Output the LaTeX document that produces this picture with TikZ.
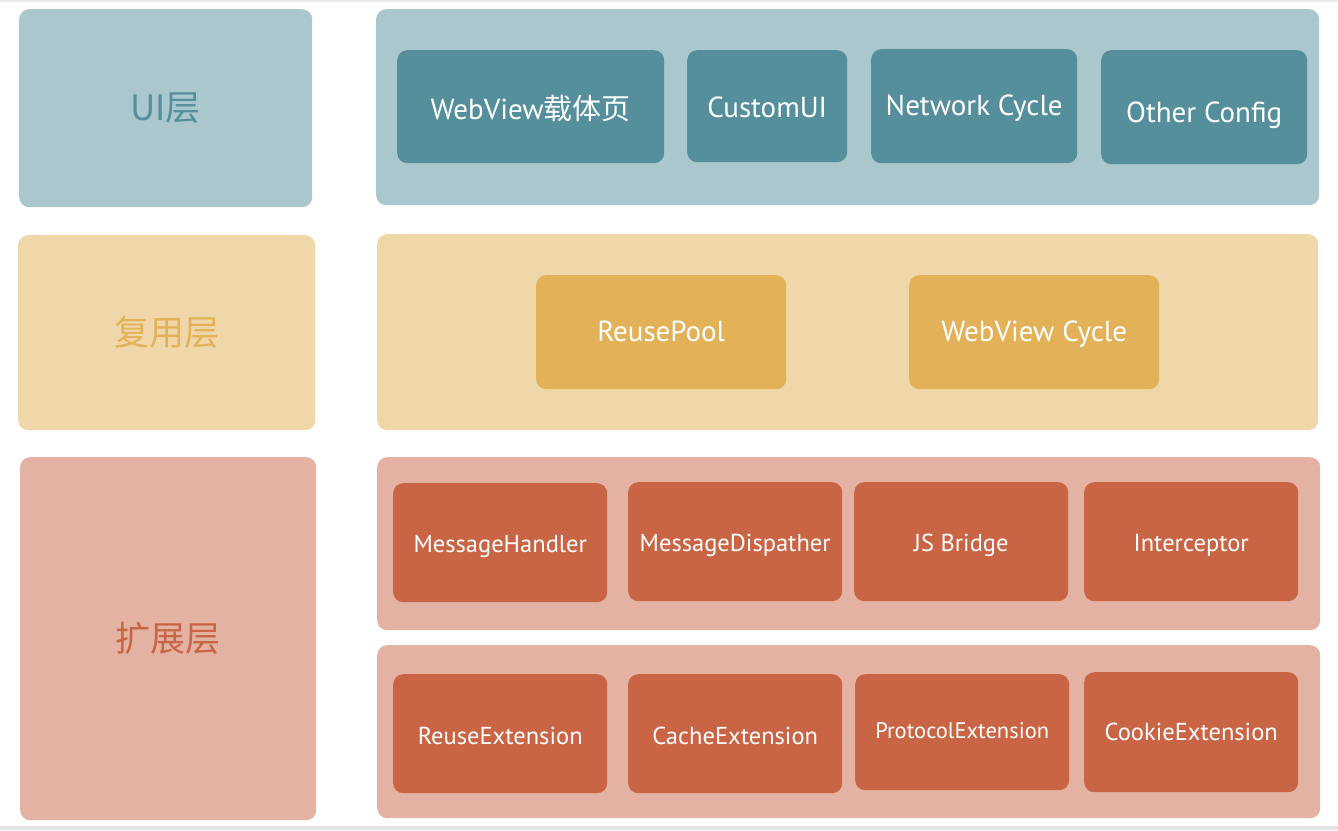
\documentclass[tikz,border=0pt]{standalone}
\usepackage{fontspec}
\setmainfont{PT Sans}
\newfontfamily\cjk{Noto Sans CJK SC}
\usetikzlibrary{positioning}

\definecolor{uibg}{HTML}{AAC7CD}
\definecolor{uifg}{HTML}{548F9B}
\definecolor{reusebg}{HTML}{F0D7A9}
\definecolor{reusefg}{HTML}{E3B158}
\definecolor{extbg}{HTML}{E4B2A2}
\definecolor{extfg}{HTML}{C96544}

\tikzset{
  panel/.style={rounded corners=10pt, inner sep=0pt, anchor=north west},
  layer/.style={panel, font=\cjk\fontsize{35}{40}\selectfont},
  item/.style={rounded corners=10pt, inner sep=0pt, anchor=north west, text=white, text depth=0pt, text height=20pt, font=\fontsize{29}{34}\selectfont},
  small/.style={item, text height=19pt, font=\fontsize{24.5}{29}\selectfont},
}

\begin{document}
\begin{tikzpicture}[x=1pt, y=-1pt]
\useasboundingbox (0,0) rectangle (1338,830);
\fill[white] (0,0) rectangle (1338,830);
\fill[black!8] (0,0) rectangle (1338,1.5);
\fill[black!10] (0,826) rectangle (1338,830);

% left column
\node[layer, fill=uibg, text=uifg, minimum width=293pt, minimum height=198pt] (uilayer) at (19,9) {UI层};
\node[layer, fill=reusebg, text=reusefg, minimum width=297pt, minimum height=195pt] (reuselayer) at (18,235) {复用层};
\node[layer, fill=extbg, text=extfg, minimum width=296pt, minimum height=363pt] (extlayer) at (20,457) {扩展层};

% right panels
\node[panel, fill=uibg, minimum width=943pt, minimum height=196pt] (uipanel) at (376,9) {};
\node[panel, fill=reusebg, minimum width=941pt, minimum height=196pt] (reusepanel) at (377,234) {};
\node[panel, fill=extbg, minimum width=943pt, minimum height=173pt] (extpanela) at (377,457) {};
\node[panel, fill=extbg, minimum width=943pt, minimum height=173pt] (extpanelb) at (377,645) {};

% UI layer
\node[item, fill=uifg, minimum width=267pt, minimum height=113pt, text height=26pt] (webview) at (397,50) {WebView{\cjk 载体页}};
\node[item, fill=uifg, minimum width=160pt, minimum height=112pt, text height=22pt] (customui) at (687,50) {CustomUI};
\node[item, fill=uifg, minimum width=206pt, minimum height=114pt, text height=18pt] (network) at (871,49) {Network Cycle};
\node[item, fill=uifg, minimum width=206pt, minimum height=114pt, text height=30pt] (otherconfig) at (1101,50) {Other Config};

% reuse layer
\node[item, fill=reusefg, minimum width=250pt, minimum height=114pt, text height=18pt] (reusepool) at (536,275) {ReusePool};
\node[item, fill=reusefg, minimum width=250pt, minimum height=114pt, text height=18pt] (webviewcycle) at (909,275) {WebView Cycle};

% extension layer
\node[small, fill=extfg, minimum width=214pt, minimum height=119pt] (msghandler) at (393,483) {MessageHandler};
\node[small, fill=extfg, minimum width=214pt, minimum height=119pt] (msgdispatcher) at (628,482) {MessageDispather};
\node[small, fill=extfg, minimum width=214pt, minimum height=119pt] (jsbridge) at (854,482) {JS Bridge};
\node[small, fill=extfg, minimum width=214pt, minimum height=119pt] (interceptor) at (1084,482) {Interceptor};

\node[small, fill=extfg, minimum width=214pt, minimum height=119pt, text height=22pt] (reuseext) at (393,674) {ReuseExtension};
\node[small, fill=extfg, minimum width=214pt, minimum height=119pt, text height=22pt] (cacheext) at (628,674) {CacheExtension};
\node[small, fill=extfg, minimum width=214pt, minimum height=116pt, font=\fontsize{22.5}{27}\selectfont, text height=12pt] (protocolext) at (855,674) {ProtocolExtension};
\node[small, fill=extfg, minimum width=214pt, minimum height=120pt, text height=17pt] (cookieext) at (1084,672) {CookieExtension};
\end{tikzpicture}
\end{document}
